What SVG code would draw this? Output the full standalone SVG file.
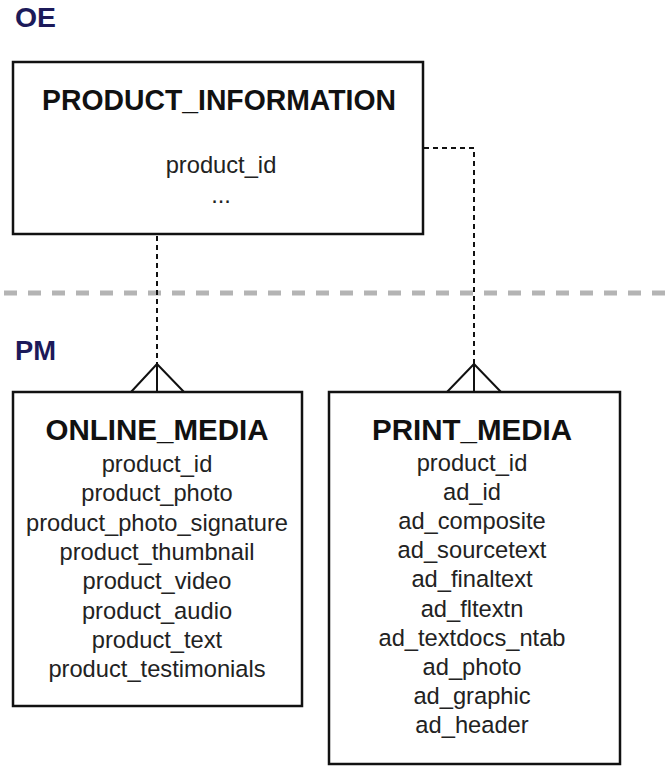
<svg xmlns="http://www.w3.org/2000/svg" width="667" height="766" viewBox="0 0 667 766">
<style>
.box{fill:#fff;stroke:#111;stroke-width:2.5}
.title{font-family:"Liberation Sans",Arial,sans-serif;font-weight:bold;font-size:29px;fill:#111;text-anchor:middle}
.attr{font-family:"Liberation Sans",Arial,sans-serif;font-size:23.7px;fill:#222;text-anchor:middle}
.schema{font-family:"Liberation Sans",Arial,sans-serif;font-weight:bold;font-size:27px;fill:#1c1a5a}
.dash{fill:none;stroke:#111;stroke-width:2;stroke-dasharray:5 4}
.foot{fill:none;stroke:#111;stroke-width:2}
.sep{stroke:#b4b4b4;stroke-width:5;stroke-dasharray:13 11}
</style>
<rect width="667" height="766" fill="#fff"/>
<text class="schema" x="15" y="27" textLength="41" lengthAdjust="spacingAndGlyphs">OE</text>
<line class="sep" x1="4" y1="293" x2="667" y2="293"/>
<text class="schema" x="15" y="360" textLength="41" lengthAdjust="spacingAndGlyphs">PM</text>
<g id="connectors">
<path class="dash" d="M157,236 V364"/>
<path class="foot" d="M157,364 V392 M157,364 L131,392 M157,364 L184,392"/>
<path class="dash" d="M424,148 H474 V364"/>
<path class="foot" d="M474,364 V392 M474,364 L447,392 M474,364 L501,392"/>
</g>
<g id="product_information">
<rect class="box" x="13" y="62" width="410" height="172"/>
<text class="title" x="219" y="110" textLength="354" lengthAdjust="spacingAndGlyphs">PRODUCT_INFORMATION</text>
<text class="attr" x="221" y="173">product_id</text>
<text class="attr" x="221" y="203">...</text>
</g>
<g id="online_media">
<rect class="box" x="13" y="392" width="289" height="314"/>
<text class="title" x="157" y="440" textLength="223" lengthAdjust="spacingAndGlyphs">ONLINE_MEDIA</text>
<text class="attr" x="157" y="472">product_id</text>
<text class="attr" x="157" y="501.3">product_photo</text>
<text class="attr" x="157" y="530.6">product_photo_signature</text>
<text class="attr" x="157" y="559.9">product_thumbnail</text>
<text class="attr" x="157" y="589.2">product_video</text>
<text class="attr" x="157" y="618.5">product_audio</text>
<text class="attr" x="157" y="647.8">product_text</text>
<text class="attr" x="157" y="677.1">product_testimonials</text>
</g>
<g id="print_media">
<rect class="box" x="329" y="392" width="291" height="372"/>
<text class="title" x="472" y="440" textLength="200" lengthAdjust="spacingAndGlyphs">PRINT_MEDIA</text>
<text class="attr" x="472" y="471">product_id</text>
<text class="attr" x="472" y="500.1">ad_id</text>
<text class="attr" x="472" y="529.2">ad_composite</text>
<text class="attr" x="472" y="558.3">ad_sourcetext</text>
<text class="attr" x="472" y="587.4">ad_finaltext</text>
<text class="attr" x="472" y="616.5">ad_fltextn</text>
<text class="attr" x="472" y="645.6">ad_textdocs_ntab</text>
<text class="attr" x="472" y="674.7">ad_photo</text>
<text class="attr" x="472" y="703.8">ad_graphic</text>
<text class="attr" x="472" y="732.9">ad_header</text>
</g>
</svg>
